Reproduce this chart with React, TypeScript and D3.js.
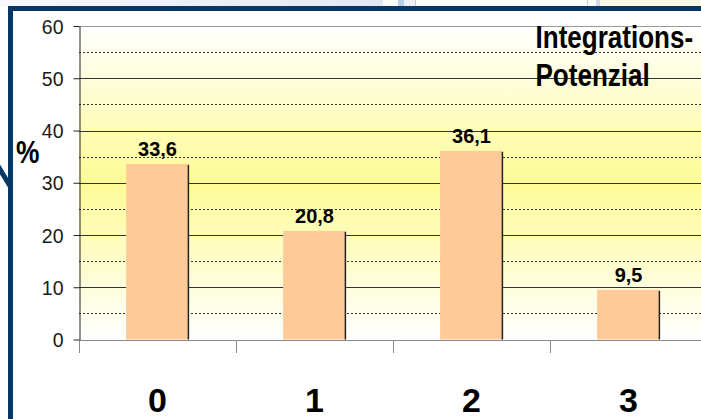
import React, { useRef, useEffect } from 'react';
import * as d3 from 'd3';

// Chart values
const categories = ['0', '1', '2', '3'];
const values = [33.6, 20.8, 36.1, 9.5];
const yTicks = [0, 10, 20, 30, 40, 50, 60];
const yMinorTicks = [5, 15, 25, 35, 45, 55];
const titleLines = ['Integrations-', 'Potenzial'];
const yAxisLabel = '%';

const W = 701;
const H = 419;
const NAVY = '#073766';
const FONT = "'Liberation Sans', Arial, sans-serif";

const fmt = (v: number) => v.toFixed(1).replace('.', ',');

export default function App() {
  const svgRef = useRef<SVGSVGElement>(null);

  useEffect(() => {
    if (!svgRef.current) return;
    const svg = d3.select(svgRef.current);
    svg.selectAll('*').remove();

    const plot = { left: 79, top: 26, bottom: 339.5, right: 707 };

    const x = d3.scaleBand<string>()
      .domain(categories)
      .range([plot.left, plot.right])
      .paddingInner(0.6)
      .paddingOuter(0.3);

    const y = d3.scaleLinear()
      .domain([0, 60])
      .range([plot.bottom, plot.top]);

    const crisp = (v: number) => Math.round(v) + 0.5;

    const defs = svg.append('defs');
    const grad = defs.append('linearGradient')
      .attr('id', 'plotBg')
      .attr('x1', 0).attr('y1', 0).attr('x2', 0).attr('y2', 1);
    grad.append('stop').attr('offset', '0%').attr('stop-color', '#ffffff');
    grad.append('stop').attr('offset', '50%').attr('stop-color', '#fefb96');
    grad.append('stop').attr('offset', '100%').attr('stop-color', '#ffffff');

    const strip = defs.append('linearGradient')
      .attr('id', 'stripBg')
      .attr('x1', 0).attr('y1', 0).attr('x2', 1).attr('y2', 0);
    strip.append('stop').attr('offset', '0%').attr('stop-color', '#f8f9fc');
    strip.append('stop').attr('offset', '100%').attr('stop-color', '#e2e9f5');

    // page background
    svg.append('rect').attr('width', W).attr('height', H).attr('fill', '#ffffff');

    // top strip (slide behind the chart)
    svg.append('rect').attr('x', 0).attr('y', 0).attr('width', 383).attr('height', 7).attr('fill', 'url(#stripBg)');
    svg.append('rect').attr('x', 398).attr('y', 0).attr('width', 6).attr('height', 7).attr('fill', '#bcd0ea');
    svg.append('rect').attr('x', 404).attr('y', 0).attr('width', 11).attr('height', 7).attr('fill', '#eef2f8');
    svg.append('rect').attr('x', 415).attr('y', 0).attr('width', 1).attr('height', 7).attr('fill', '#c8c8c8');
    svg.append('rect').attr('x', 587).attr('y', 0).attr('width', 1).attr('height', 7).attr('fill', '#c8c8c8');
    svg.append('rect').attr('x', 596).attr('y', 0).attr('width', 4).attr('height', 7).attr('fill', '#cfdcee');
    svg.append('rect').attr('x', 600).attr('y', 0).attr('width', 101).attr('height', 7).attr('fill', '#fafbe6');

    // navy frame
    svg.append('rect').attr('x', 8).attr('y', 6).attr('width', W - 8).attr('height', 5).attr('fill', NAVY);
    svg.append('rect').attr('x', 8).attr('y', 6).attr('width', 5).attr('height', H - 6).attr('fill', NAVY);
    svg.append('line')
      .attr('x1', -2).attr('y1', 166).attr('x2', 10).attr('y2', 186)
      .attr('stroke', NAVY).attr('stroke-width', 5);

    // plot area
    svg.append('rect')
      .attr('x', plot.left).attr('y', plot.top)
      .attr('width', W - plot.left).attr('height', plot.bottom - plot.top)
      .attr('fill', 'url(#plotBg)');

    // minor (dotted) grid
    svg.append('g').selectAll('line').data(yMinorTicks).join('line')
      .attr('x1', plot.left).attr('x2', W)
      .attr('y1', d => crisp(y(d))).attr('y2', d => crisp(y(d)))
      .attr('stroke', '#333').attr('stroke-width', 1).attr('stroke-dasharray', '2,2');

    // major grid
    svg.append('g').selectAll('line').data(yTicks.filter(t => t > 0)).join('line')
      .attr('x1', plot.left).attr('x2', W)
      .attr('y1', d => crisp(y(d))).attr('y2', d => crisp(y(d)))
      .attr('stroke', d => (d === 60 ? '#999' : '#333')).attr('stroke-width', 1);

    // bars
    const bars = svg.append('g');
    bars.selectAll('rect').data(values).join('rect')
      .attr('x', (_, i) => x(categories[i])!)
      .attr('y', d => y(d))
      .attr('width', x.bandwidth())
      .attr('height', d => y(0) - y(d))
      .attr('fill', '#fecb98');
    bars.selectAll('line').data(values).join('line')
      .attr('x1', (_, i) => x(categories[i])! + x.bandwidth() - 0.5)
      .attr('x2', (_, i) => x(categories[i])! + x.bandwidth() - 0.5)
      .attr('y1', d => y(d) + 1).attr('y2', y(0))
      .attr('stroke', '#222').attr('stroke-width', 1.5);

    // value labels
    svg.append('g').selectAll('text').data(values).join('text')
      .attr('transform', (d, i) => `translate(${x(categories[i])! + x.bandwidth() / 2},${y(d) - 7.5}) scale(0.95,1)`)
      .attr('text-anchor', 'middle')
      .attr('font-family', FONT).attr('font-weight', 'bold').attr('font-size', 21)
      .attr('fill', '#000')
      .text(d => fmt(d));

    // x axis
    svg.append('line')
      .attr('x1', plot.left).attr('x2', W)
      .attr('y1', crisp(y(0))).attr('y2', crisp(y(0)))
      .attr('stroke', '#888').attr('stroke-width', 1);
    svg.append('g').selectAll('line').data(categories).join('line')
      .attr('x1', d => crisp(x(d)! - x.step() * 0.3))
      .attr('x2', d => crisp(x(d)! - x.step() * 0.3))
      .attr('y1', crisp(y(0))).attr('y2', 353)
      .attr('stroke', '#888').attr('stroke-width', 1);
    svg.append('g').selectAll('text').data(categories).join('text')
      .attr('x', d => x(d)! + x.bandwidth() / 2)
      .attr('y', 411.5)
      .attr('text-anchor', 'middle')
      .attr('font-family', FONT).attr('font-weight', 'bold').attr('font-size', 34)
      .attr('fill', '#000')
      .text(d => d);

    // y axis
    const yAxis = d3.axisLeft(y).tickValues(yTicks).tickSize(6).tickSizeOuter(0).tickPadding(10);
    const ya = svg.append('g')
      .attr('transform', `translate(${plot.left + 0.5},0)`)
      .call(yAxis);
    ya.select('.domain').attr('stroke', '#222');
    ya.selectAll('.tick line').attr('stroke', '#222');
    ya.selectAll('.tick text')
      .attr('font-family', FONT).attr('font-size', 19.5).attr('fill', '#1a1a1a')
      .attr('dy', '0.37em');

    // axis unit
    svg.append('text')
      .attr('transform', 'translate(16,162.5) scale(0.85,1)')
      .attr('font-family', FONT).attr('font-weight', 'bold').attr('font-size', 31)
      .attr('fill', '#000')
      .text(yAxisLabel);

    // title
    svg.append('g').selectAll('text').data(titleLines).join('text')
      .attr('transform', (_, i) => `translate(535.5,${47.5 + i * 38}) scale(0.84,1)`)
      .attr('font-family', FONT).attr('font-weight', 'bold').attr('font-size', 31)
      .attr('fill', '#000')
      .text(d => d);
  }, []);

  return (
    <svg
      ref={svgRef}
      width={W}
      height={H}
      style={{ position: 'absolute', left: 0, top: 0, display: 'block' }}
    />
  );
}
